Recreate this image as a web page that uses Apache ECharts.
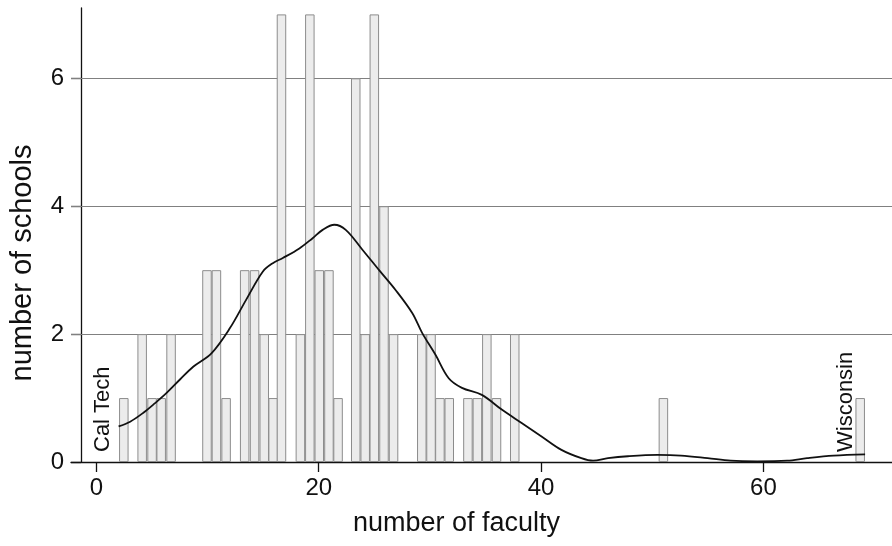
<!DOCTYPE html>
<html>
<head>
<meta charset="utf-8">
<script src="https://cdn.jsdelivr.net/npm/echarts@6/dist/echarts.min.js"></script>
<style>
html,body{margin:0;padding:0;background:#fff;}
#chart{width:892px;height:546px;}
</style>
</head>
<body>
<div id="chart"></div>
<script>
// Tick labels
const xTicks = [0, 20, 40, 60];
const yTicks = [0, 2, 4, 6];
const gridLines = [2, 4, 6];

// Histogram bars: centre (number of faculty) and number of schools
const barX = [2.47, 4.12, 5.01, 5.83, 6.72, 9.95, 10.8, 11.67, 13.34, 14.23, 15.1, 15.9, 16.65,
  18.35, 19.2, 20.05, 20.92, 21.74, 23.33, 24.18, 25.0, 25.87, 26.73, 29.27, 30.1, 30.9, 31.74,
  33.42, 34.27, 35.12, 35.99, 37.63, 51.0, 68.7];
const barCount = [1, 2, 1, 1, 2, 3, 3, 1, 3, 3, 2, 1, 7,
  2, 7, 3, 3, 1, 6, 2, 7, 4, 2, 2, 2, 1, 1,
  1, 1, 2, 1, 2, 1, 1];

// Density curve
const densX = [2.0, 3.04, 4.23, 5.28, 6.32, 7.52, 8.71, 10.35, 12.0, 13.48, 14.98, 15.87, 16.77,
  18.26, 19.45, 20.35, 21.4, 22.43, 23.93, 25.43, 26.91, 28.41, 29.3, 30.49, 31.69, 32.88, 34.67,
  36.46, 38.25, 40.04, 41.83, 43.62, 44.67, 46.02, 47.81, 50.49, 52.58, 54.97, 57.06, 59.44,
  62.13, 63.92, 66.3, 69.14];
const densY = [0.556, 0.63, 0.77, 0.92, 1.08, 1.29, 1.49, 1.70, 2.09, 2.54, 2.98, 3.11, 3.19,
  3.34, 3.5, 3.63, 3.71, 3.63, 3.32, 3.0, 2.69, 2.33, 2.02, 1.68, 1.31, 1.16, 1.05,
  0.82, 0.61, 0.40, 0.19, 0.06, 0.02, 0.06, 0.09, 0.11, 0.10, 0.06, 0.02, 0.01,
  0.02, 0.06, 0.10, 0.12];

// Annotations
const annoNames = ['Cal Tech', 'Wisconsin'];
const annoX = [0.56, 67.4];

const FONT = 'Liberation Sans, Arial, sans-serif';
const chart = echarts.init(document.getElementById('chart'), null, {renderer: 'canvas'});

chart.setOption({
  animation: false,
  backgroundColor: '#fff',
  grid: {left: 67, right: 0, top: 8, bottom: 84, containLabel: false},
  xAxis: {
    type: 'value', min: -2.28, max: 71.56,
    axisLine: {show: true, onZero: false, lineStyle: {color: '#111', width: 1.3}},
    axisTick: {show: true, inside: false, length: 10, customValues: xTicks, lineStyle: {color: '#111', width: 1.3}},
    axisLabel: {customValues: xTicks, color: '#111', fontSize: 24, fontFamily: FONT, margin: 14},
    splitLine: {show: false},
    name: 'number of faculty', nameLocation: 'middle', nameGap: 48,
    nameTextStyle: {color: '#111', fontSize: 27, fontFamily: FONT, padding: [0, 50, 0, 0]}
  },
  yAxis: {
    type: 'value', min: 0, max: 7.1, offset: -10,
    axisLine: {show: true, onZero: false, lineStyle: {color: '#111', width: 1.3}},
    axisTick: {show: true, inside: false, length: 10, customValues: yTicks, lineStyle: {color: '#111', width: 1.3}},
    axisLabel: {customValues: yTicks, color: '#111', fontSize: 24, fontFamily: FONT, margin: 17},
    splitLine: {show: false},
    name: 'number of schools', nameLocation: 'middle', nameGap: 44, nameRotate: 90,
    nameTextStyle: {color: '#111', fontSize: 29, fontFamily: FONT, padding: [0, 56, 0, 0]}
  },
  series: [
    {
      type: 'bar',
      data: barX.map((x, i) => [x, barCount[i]]),
      barWidth: 9.5,
      itemStyle: {color: '#ececec', borderColor: '#8c8c8c', borderWidth: 1},
      z: 2,
      markLine: {
        silent: true, symbol: 'none', label: {show: false},
        lineStyle: {color: '#808080', width: 1.2, type: 'solid'},
        data: gridLines.map(v => ({yAxis: v})),
        z: 1
      }
    },
    {
      type: 'line',
      data: densX.map((x, i) => [x, densY[i]]),
      smooth: 0.35,
      showSymbol: false,
      lineStyle: {color: '#111', width: 1.8},
      z: 5
    },
    {
      type: 'scatter',
      symbolSize: 0,
      itemStyle: {opacity: 1},
      data: annoX.map((x, i) => ({name: annoNames[i], value: [x, 0]})),
      label: {
        show: true, formatter: '{b}', position: 'top', distance: 10,
        rotate: 90, align: 'left', verticalAlign: 'middle',
        color: '#111', fontSize: 22, fontFamily: FONT
      },
      z: 6
    }
  ]
});
</script>
</body>
</html>
